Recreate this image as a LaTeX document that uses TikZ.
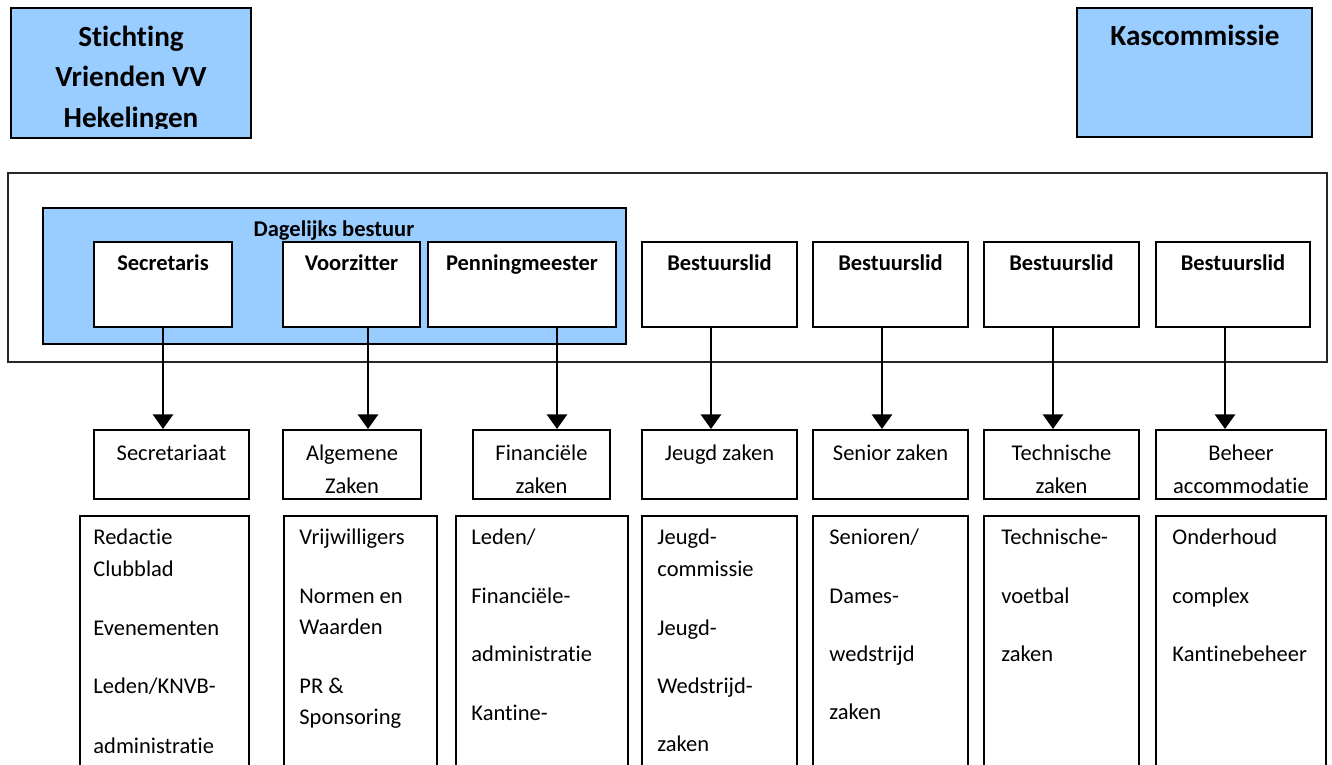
\documentclass[tikz,border=0pt]{standalone}
\usepackage{fontspec}
\setmainfont{Carlito}[Ligatures=NoCommon]
\usetikzlibrary{fit,arrows.meta}
\definecolor{lblue}{HTML}{99CCFF}
\begin{document}
\begin{tikzpicture}[x=0.48pt,y=-0.48pt,
  box/.style={draw=black, line width=0.96pt, inner sep=0pt},
  bluebox/.style={box, fill=lblue},
  wbox/.style={box, fill=white},
  bt/.style={font=\fontsize{10.8}{13}\selectfont\bfseries, inner sep=0pt, anchor=base},
  bigt/.style={font=\fontsize{14}{17}\selectfont\bfseries, inner sep=0pt, anchor=base},
  rt/.style={font=\fontsize{10.8}{13}\selectfont, inner sep=0pt, anchor=base},
  lt/.style={rt, anchor=base west},
  arr/.style={line width=1.3pt, -{Triangle[width=9.6pt,length=7pt]}}
]
\useasboundingbox (0,0) rectangle (1332,765);
\clip (0,0) rectangle (1332,765);

% top boxes
\node[bluebox, fit={(11,8) (251,138)}] (stichting) {};
\begin{scope}
  \clip (12,9) rectangle (250,129);
  \node[bigt] (st1) at (131,47) {Stichting};
  \node[bigt] (st2) at (131,87) {Vrienden VV};
  \node[bigt] (st3) at (131,128) {Hekelingen};
\end{scope}
\node[bluebox, fit={(1077,8) (1312,137)}] (kas) {};
\node[bigt] (kast) at (1195,46) {Kascommissie};

% board frame
\node[box, draw=black!85, line width=0.8pt, fit={(8,173) (1327,362)}] (bestuur) {};
\node[bluebox, fit={(43,208) (626,344)}] (db) {};

% board members
\node[wbox, fit={(94,242) (232,327)}] (sec) {};
\node[wbox, fit={(283,242) (420,327)}] (voo) {};
\node[wbox, fit={(428,242) (616,327)}] (pen) {};
\node[wbox, fit={(642,242) (797,327)}] (b1) {};
\node[wbox, fit={(813,242) (968,327)}] (b2) {};
\node[wbox, fit={(984,242) (1139,327)}] (b3) {};
\node[wbox, fit={(1156,242) (1310,327)}] (b4) {};
\node[bt] (dbt) at (334,237) {Dagelijks bestuur};
\node[bt] (sect) at (163,271) {Secretaris};
\node[bt] (voot) at (351.5,271) {Voorzitter};
\node[bt] (pent) at (522,271) {Penningmeester};
\node[bt] (b1t) at (719.5,271) {Bestuurslid};
\node[bt] (b2t) at (890.5,271) {Bestuurslid};
\node[bt] (b3t) at (1061.5,271) {Bestuurslid};
\node[bt] (b4t) at (1233,271) {Bestuurslid};

% departments
\node[box, fit={(94,430) (249,499)}] (d1) {};
\node[box, fit={(283,430) (421,499)}] (d2) {};
\node[box, fit={(473,430) (610,499)}] (d3) {};
\node[box, fit={(642,430) (797,499)}] (d4) {};
\node[box, fit={(813,430) (968,499)}] (d5) {};
\node[box, fit={(984,430) (1139,499)}] (d6) {};
\node[box, fit={(1156,430) (1326,499)}] (d7) {};
\node[rt] (d1t) at (171.5,461) {Secretariaat};
\node[rt] (d2a) at (352,461) {Algemene};
\node[rt] (d2b) at (352,494) {Zaken};
\node[rt] (d3a) at (541.5,461) {Financiële};
\node[rt] (d3b) at (541.5,494) {zaken};
\node[rt] (d4t) at (719.5,461) {Jeugd zaken};
\node[rt] (d5t) at (890.5,461) {Senior zaken};
\node[rt] (d6a) at (1061.5,461) {Technische};
\node[rt] (d6b) at (1061.5,494) {zaken};
\node[rt] (d7a) at (1241,461) {Beheer};
\node[rt] (d7b) at (1241,494) {accommodatie};

% arrows
\coordinate (a1) at (163,0);
\coordinate (a2) at (368,0);
\coordinate (a3) at (557,0);
\coordinate (a4) at (711,0);
\coordinate (a5) at (882,0);
\coordinate (a6) at (1053,0);
\coordinate (a7) at (1225,0);
\draw[arr] (sec.south -| a1) -- (d1.north -| a1);
\draw[arr] (voo.south -| a2) -- (d2.north -| a2);
\draw[arr] (pen.south -| a3) -- (d3.north -| a3);
\draw[arr] (b1.south -| a4) -- (d4.north -| a4);
\draw[arr] (b2.south -| a5) -- (d5.north -| a5);
\draw[arr] (b3.south -| a6) -- (d6.north -| a6);
\draw[arr] (b4.south -| a7) -- (d7.north -| a7);

% detail boxes
\node[box, fit={(80,516) (249,780)}] (e1) {};
\node[box, fit={(284,516) (437,780)}] (e2) {};
\node[box, fit={(456,516) (628,780)}] (e3) {};
\node[box, fit={(642,516) (797,780)}] (e4) {};
\node[box, fit={(813,516) (968,780)}] (e5) {};
\node[box, fit={(984,516) (1139,780)}] (e6) {};
\node[box, fit={(1156,516) (1326,780)}] (e7) {};

\node[lt] (e1a) at (93,545) {Redactie};
\node[lt] (e1b) at (93,577) {Clubblad};
\node[lt] (e1c) at (93,636) {Evenementen};
\node[lt] (e1d) at (93,694) {Leden/KNVB-};
\node[lt] (e1e) at (93,754) {administratie};

\node[lt] (e2a) at (299,545) {Vrijwilligers};
\node[lt] (e2b) at (299,604) {Normen en};
\node[lt] (e2c) at (299,635) {Waarden};
\node[lt] (e2d) at (299,694) {PR \&};
\node[lt] (e2e) at (299,725) {Sponsoring};

\node[lt] (e3a) at (471,545) {Leden/};
\node[lt] (e3b) at (471,604) {Financiële-};
\node[lt] (e3c) at (471,662) {administratie};
\node[lt] (e3d) at (471,721) {Kantine-};

\node[lt] (e4a) at (657,545) {Jeugd-};
\node[lt] (e4b) at (657,577) {commissie};
\node[lt] (e4c) at (657,636) {Jeugd-};
\node[lt] (e4d) at (657,694) {Wedstrijd-};
\node[lt] (e4e) at (657,752) {zaken};

\node[lt] (e5a) at (829,545) {Senioren/};
\node[lt] (e5b) at (829,604) {Dames-};
\node[lt] (e5c) at (829,662) {wedstrijd};
\node[lt] (e5d) at (829,720) {zaken};

\node[lt] (e6a) at (1001,545) {Technische-};
\node[lt] (e6b) at (1001,604) {voetbal};
\node[lt] (e6c) at (1001,662) {zaken};

\node[lt] (e7a) at (1172,545) {Onderhoud};
\node[lt] (e7b) at (1172,604) {complex};
\node[lt] (e7c) at (1172,662) {Kantinebeheer};
\end{tikzpicture}
\end{document}
